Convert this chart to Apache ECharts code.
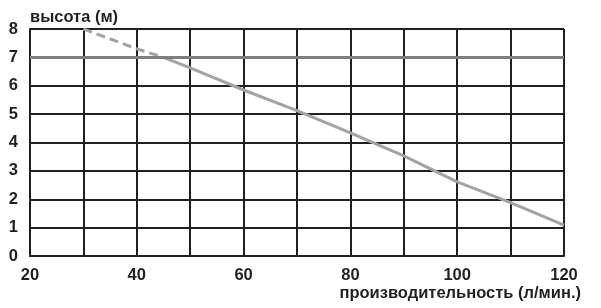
<!DOCTYPE html>
<html>
<head>
<meta charset="utf-8">
<script src="https://cdn.jsdelivr.net/npm/echarts@6/dist/echarts.min.js"></script>
<style>
html, body { margin: 0; padding: 0; background: #fff; }
#chart { width: 601px; height: 308px; }
</style>
</head>
<body>
<div id="chart"></div>
<script>
// данные
const flowDashed = [30, 40, 45];
const headDashed = [8, 7.3, 7];
const flowSolid = [45, 50, 60, 70, 80, 90, 100, 110, 120];
const headSolid = [7, 6.63, 5.85, 5.12, 4.34, 3.53, 2.61, 1.88, 1.09];
const maxHead = 7;
const xTicks = [20, 40, 60, 80, 100, 120];

const gridColor = '#231f20';
const curveColor = '#a3a3a3';
const labelFont = { color: '#231f20', fontSize: 16.5, fontWeight: 'bold', fontFamily: 'Liberation Sans, Arial, sans-serif' };

const zip = (xs, ys) => xs.map((x, i) => [x, ys[i]]);

let myChart = echarts.init(document.getElementById('chart'));
myChart.setOption({
    animation: false,
    grid: { left: 30, right: 37, top: 29, bottom: 52 },
    xAxis: {
        type: 'value',
        min: 20,
        max: 120,
        interval: 10,
        name: 'производительность (л/мин.)',
        nameLocation: 'end',
        nameGap: 17,
        nameTextStyle: Object.assign({}, labelFont, { align: 'right', verticalAlign: 'top', padding: [29, 0, 0, 0] }),
        axisLine: { show: true, lineStyle: { color: gridColor, width: 2 } },
        axisTick: { show: false },
        axisLabel: Object.assign({}, labelFont, {
            margin: 11,
            formatter: v => xTicks.includes(v) ? String(v) : ''
        }),
        splitLine: { show: true, lineStyle: { color: gridColor, width: 2 } }
    },
    yAxis: {
        type: 'value',
        min: 0,
        max: 8,
        interval: 1,
        name: 'высота (м)',
        nameLocation: 'end',
        nameGap: 12,
        nameTextStyle: Object.assign({}, labelFont, { align: 'left', verticalAlign: 'middle' }),
        axisLine: { show: true, lineStyle: { color: gridColor, width: 2 } },
        axisTick: { show: false },
        axisLabel: Object.assign({}, labelFont, { margin: 12 }),
        splitLine: { show: true, lineStyle: { color: gridColor, width: 2 } }
    },
    series: [
        {
            type: 'line',
            data: zip(flowSolid, headSolid),
            symbol: 'none',
            lineStyle: { color: curveColor, width: 3 },
            markLine: {
                silent: true,
                symbol: 'none',
                label: { show: false },
                lineStyle: { color: '#7f7f7f', width: 3, type: 'solid' },
                data: [{ yAxis: maxHead }]
            },
            z: 3
        },
        {
            type: 'line',
            data: zip(flowDashed, headDashed),
            symbol: 'none',
            lineStyle: { color: curveColor, width: 3, type: [9, 5] },
            z: 3
        }
    ]
});
</script>
</body>
</html>
